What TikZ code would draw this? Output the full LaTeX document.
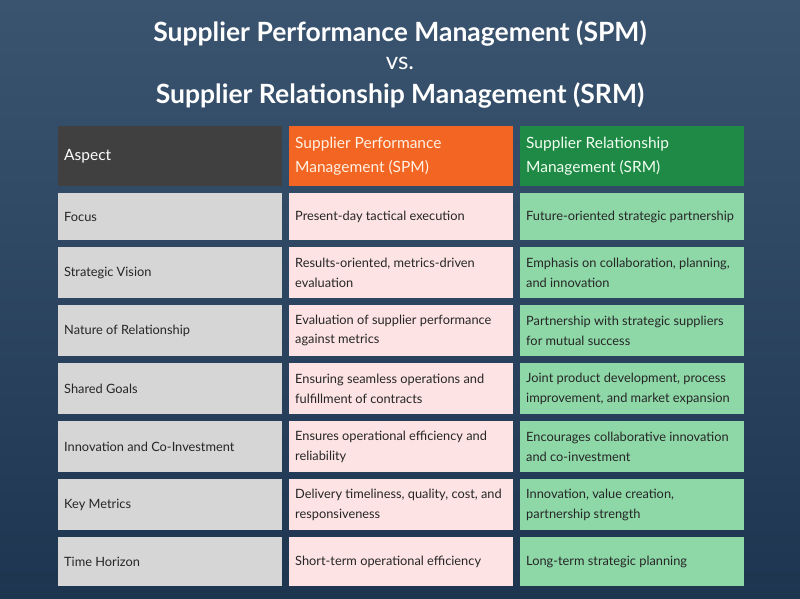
\documentclass[tikz,border=0pt]{standalone}
\usepackage{fontspec}
\setmainfont{Lato}
\definecolor{bgtop}{HTML}{3A5470}
\definecolor{bgbot}{HTML}{1E3550}
\definecolor{orng}{HTML}{F26522}
\definecolor{grn}{HTML}{1E8A45}
\definecolor{srmf}{HTML}{8ED8A8}
\definecolor{spmf}{HTML}{FDE3E3}
\definecolor{aspf}{HTML}{D6D6D6}
\begin{document}
\begin{tikzpicture}[x=1pt,y=-1pt,
  cell/.style={anchor=north west,inner xsep=6pt,inner ysep=0pt,minimum width=224pt,text width=212pt,align=flush left,font=\fontsize{12.8}{19.5}\selectfont,text=black!85},
  aspect/.style={cell,fill=aspf},
  spm/.style={cell,fill=spmf},
  srm/.style={cell,fill=srmf},
  hdr/.style={cell,font=\fontsize{15.5}{24}\selectfont,text=white,minimum height=60pt},
  ttl/.style={font=\bfseries\fontsize{26.5}{30}\selectfont,text=white}]
\useasboundingbox (0,0) rectangle (800,599);
\shade[top color=bgtop,bottom color=bgbot] (0,0) rectangle (800,599);
\node[ttl] (t1) at (400,33) {Supplier Performance Management (SPM)};
\node[ttl,font=\fontsize{24}{28}\selectfont] (t2) at (400,63) {vs.};
\node[ttl] (t3) at (400,95) {Supplier Relationship Management (SRM)};
\node[hdr,fill=black!75] (h1) at (58,126) {Aspect};
\node[hdr,fill=orng,text=orange!10] (h2) at (289,126) {Supplier Performance\\Management (SPM)};
\node[hdr,fill=grn,text=green!5] (h3) at (520,126) {Supplier Relationship\\Management (SRM)};
\foreach \y/\h/\a/\b/\c [count=\i] in {
 193/47/Focus/Present-day tactical execution/Future-oriented strategic partnership,
 247/51/Strategic Vision/{Results-oriented, metrics-driven\\evaluation}/{Emphasis on collaboration, planning,\\and innovation},
 305/51/Nature of Relationship/{Evaluation of supplier performance\\against metrics}/{Partnership with strategic suppliers\\for mutual success},
 363/51/Shared Goals/{Ensuring seamless operations and\\fulfillment of contracts}/{Joint product development, process\\improvement, and market expansion},
 421/51/Innovation and Co-Investment/{Ensures operational efficiency and\\reliability}/{Encourages collaborative innovation\\and co-investment},
 479/51/Key Metrics/{Delivery timeliness, quality, cost, and\\responsiveness}/{Innovation, value creation,\\partnership strength},
 537/49/Time Horizon/Short-term operational efficiency/Long-term strategic planning}{
  \node[aspect,minimum height=\h pt] (a\i) at (58,\y) {\a};
  \node[spm,minimum height=\h pt] (b\i) at (289,\y) {\b};
  \node[srm,minimum height=\h pt] (c\i) at (520,\y) {\c};
}
\end{tikzpicture}
\end{document}
